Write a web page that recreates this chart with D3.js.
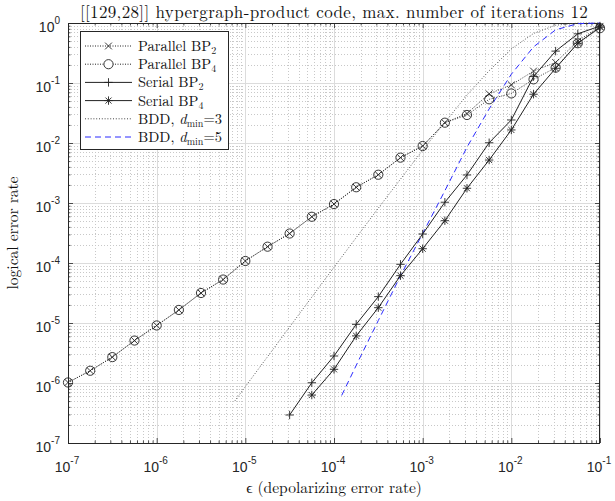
<!DOCTYPE html>
<html>
<head>
<meta charset="utf-8">
<script src="https://cdn.jsdelivr.net/npm/d3@7"></script>
<style>
  body { margin: 0; background: #fff; }
  svg { display: block; }
</style>
</head>
<body>
<svg id="chart" width="615" height="501"></svg>
<script>
// Depolarizing error rates (quarter-decade steps) for the parallel schedules
const epsParallel = [1e-7, 1.78e-7, 3.16e-7, 5.62e-7, 1e-6, 1.78e-6, 3.16e-6, 5.62e-6,
  1e-5, 1.78e-5, 3.16e-5, 5.62e-5, 1e-4, 1.78e-4, 3.16e-4, 5.62e-4,
  1e-3, 1.78e-3, 3.16e-3, 5.62e-3, 1e-2, 1.78e-2, 3.16e-2, 5.62e-2, 1e-1];
const parallelBP2 = [1.02e-6, 1.6e-6, 2.7e-6, 5.1e-6, 9.1e-6, 1.65e-5, 3.16e-5, 5.3e-5,
  1.08e-4, 1.87e-4, 3.1e-4, 5.9e-4, 9.6e-4, 1.83e-3, 2.96e-3, 5.7e-3,
  8.9e-3, 2.18e-2, 3.1e-2, 6.6e-2, 9.3e-2, 0.158, 0.22, 0.5, 0.88];
const parallelBP4 = [1.02e-6, 1.6e-6, 2.7e-6, 5.1e-6, 9.1e-6, 1.65e-5, 3.16e-5, 5.3e-5,
  1.08e-4, 1.87e-4, 3.1e-4, 5.9e-4, 9.6e-4, 1.83e-3, 2.96e-3, 5.7e-3,
  8.9e-3, 2.18e-2, 2.93e-2, 5.35e-2, 6.7e-2, 0.115, 0.18, 0.46, 0.82];

// Serial schedules
const epsSerialBP2 = [3.16e-5, 5.62e-5, 1e-4, 1.78e-4, 3.16e-4, 5.62e-4, 1e-3, 1.78e-3,
  3.16e-3, 5.62e-3, 1e-2, 1.78e-2, 3.16e-2, 5.62e-2, 1e-1];
const serialBP2 = [2.93e-7, 1.01e-6, 2.82e-6, 9.5e-6, 2.75e-5, 9.5e-5, 3.04e-4, 1.03e-3,
  2.93e-3, 1.01e-2, 2.42e-2, 0.128, 0.34, 0.66, 0.89];
const epsSerialBP4 = [5.62e-5, 1e-4, 1.78e-4, 3.16e-4, 5.62e-4, 1e-3, 1.78e-3,
  3.16e-3, 5.62e-3, 1e-2, 1.78e-2, 3.16e-2, 5.62e-2, 1e-1];
const serialBP4 = [6.3e-7, 1.69e-6, 6.1e-6, 1.8e-5, 6.15e-5, 1.73e-4, 5.07e-4,
  1.76e-3, 5.2e-3, 1.65e-2, 6.5e-2, 0.176, 0.46, 0.85];

// Bounded-distance decoding reference curves
const epsBDD3 = [7.6e-6, 1e-5, 3.16e-5, 1e-4, 3.16e-4, 1e-3, 1.78e-3, 3.16e-3,
  5.62e-3, 1e-2, 1.78e-2, 3.16e-2, 5.62e-2, 1e-1];
const bdd3 = [5.0e-7, 8.7e-7, 8.6e-6, 8.5e-5, 8.2e-4, 7.6e-3, 2.2e-2, 6.3e-2,
  0.16, 0.37, 0.67, 0.92, 0.995, 1.0];
const epsBDD5 = [1.22e-4, 2e-4, 3.16e-4, 5.62e-4, 1e-3, 1.78e-3, 3.16e-3, 5.62e-3,
  1e-2, 1.78e-2, 3.16e-2, 5.62e-2, 1e-1];
const bdd5 = [6.2e-7, 2.8e-6, 1.1e-5, 6.1e-5, 3.1e-4, 1.6e-3, 8.5e-3, 3.7e-2,
  0.14, 0.40, 0.77, 0.975, 1.0];

// Axis tick exponents
const xTickExponents = [-7, -6, -5, -4, -3, -2, -1];
const yTickExponents = [-7, -6, -5, -4, -3, -2, -1, 0];

const titleText = "[[129,28]] hypergraph-product code, max. number of iterations 12";

const W = 615, H = 501;
const margin = { left: 68, right: 15, top: 23, bottom: 58 };
const pw = W - margin.left - margin.right;
const ph = H - margin.top - margin.bottom;

const svg = d3.select("#chart");
const serif = "'Latin Modern Roman', 'Liberation Serif', 'DejaVu Serif', serif";
const sans = "'Liberation Sans', Arial, Helvetica, sans-serif";

const x = d3.scaleLog().domain([1e-7, 1e-1]).range([margin.left, margin.left + pw]);
const y = d3.scaleLog().domain([1e-7, 1]).range([margin.top + ph, margin.top]);

// Minor positions (2..9 within each decade)
function minorValues(lo, hi) {
  const out = [];
  for (let e = lo; e < hi; e++) for (let m = 2; m <= 9; m++) out.push(m * Math.pow(10, e));
  return out;
}
const xMinor = minorValues(-7, -1);
const yMinor = minorValues(-7, 0);
const xMajor = xTickExponents.map(e => Math.pow(10, e));
const yMajor = yTickExponents.map(e => Math.pow(10, e));

// Grid
const grid = svg.append("g");
grid.selectAll(".xminor").data(xMinor).join("line")
  .attr("x1", d => Math.round(x(d)) + 0.5).attr("x2", d => Math.round(x(d)) + 0.5)
  .attr("y1", margin.top).attr("y2", margin.top + ph)
  .attr("stroke", "#c8c8c8").attr("stroke-width", 1).attr("stroke-dasharray", "1 2");
grid.selectAll(".yminor").data(yMinor).join("line")
  .attr("y1", d => Math.round(y(d)) + 0.5).attr("y2", d => Math.round(y(d)) + 0.5)
  .attr("x1", margin.left).attr("x2", margin.left + pw)
  .attr("stroke", "#c8c8c8").attr("stroke-width", 1).attr("stroke-dasharray", "1 2");
grid.selectAll(".xmajor").data(xMajor).join("line")
  .attr("x1", d => Math.round(x(d)) + 0.5).attr("x2", d => Math.round(x(d)) + 0.5)
  .attr("y1", margin.top).attr("y2", margin.top + ph)
  .attr("stroke", "#dcdcdc").attr("stroke-width", 1);
grid.selectAll(".ymajor").data(yMajor).join("line")
  .attr("y1", d => Math.round(y(d)) + 0.5).attr("y2", d => Math.round(y(d)) + 0.5)
  .attr("x1", margin.left).attr("x2", margin.left + pw)
  .attr("stroke", "#dcdcdc").attr("stroke-width", 1);

// Axes with inward ticks on all four sides
const axisColor = "#262626";
function styleAxis(g) {
  g.selectAll(".domain").remove();
  g.selectAll(".tick text").remove();
  g.selectAll(".tick line").attr("stroke", axisColor).attr("stroke-width", 0.8);
}
svg.append("g").attr("transform", `translate(0,${margin.top + ph})`)
  .call(d3.axisTop(x).tickValues(xMajor).tickSize(5)).call(styleAxis);
svg.append("g").attr("transform", `translate(0,${margin.top + ph})`)
  .call(d3.axisTop(x).tickValues(xMinor).tickSize(2.5)).call(styleAxis);
svg.append("g").attr("transform", `translate(0,${margin.top})`)
  .call(d3.axisBottom(x).tickValues(xMajor).tickSize(5)).call(styleAxis);
svg.append("g").attr("transform", `translate(0,${margin.top})`)
  .call(d3.axisBottom(x).tickValues(xMinor).tickSize(2.5)).call(styleAxis);
svg.append("g").attr("transform", `translate(${margin.left},0)`)
  .call(d3.axisRight(y).tickValues(yMajor).tickSize(5)).call(styleAxis);
svg.append("g").attr("transform", `translate(${margin.left},0)`)
  .call(d3.axisRight(y).tickValues(yMinor).tickSize(2.5)).call(styleAxis);
svg.append("g").attr("transform", `translate(${margin.left + pw},0)`)
  .call(d3.axisLeft(y).tickValues(yMajor).tickSize(5)).call(styleAxis);
svg.append("g").attr("transform", `translate(${margin.left + pw},0)`)
  .call(d3.axisLeft(y).tickValues(yMinor).tickSize(2.5)).call(styleAxis);

svg.append("rect")
  .attr("x", margin.left + 0.5).attr("y", margin.top + 0.5)
  .attr("width", pw - 1).attr("height", ph)
  .attr("fill", "none").attr("stroke", axisColor).attr("stroke-width", 1);

// Tick labels: 10 with superscript exponent
const xl = svg.append("g").attr("font-family", sans).attr("fill", "#262626");
xTickExponents.forEach(e => {
  const t = xl.append("text").attr("x", x(Math.pow(10, e)) - 1).attr("y", margin.top + ph + 29)
    .attr("text-anchor", "middle").attr("font-size", 14);
  t.append("tspan").text("10");
  t.append("tspan").attr("dy", -8).attr("font-size", 10).text(String(e));
});
const yl = svg.append("g").attr("font-family", sans).attr("fill", "#262626");
yTickExponents.forEach(e => {
  const t = yl.append("text").attr("x", margin.left - 8).attr("y", y(Math.pow(10, e)) + 9)
    .attr("text-anchor", "end").attr("font-size", 14);
  t.append("tspan").text("10");
  t.append("tspan").attr("dy", -8).attr("font-size", 10).text(String(e));
});

// Title and axis titles
svg.append("text").attr("x", margin.left + pw / 2).attr("y", 18)
  .attr("text-anchor", "middle").attr("font-family", serif).attr("font-size", 17)
  .attr("letter-spacing", 0.35).attr("fill", "#111").text(titleText);
svg.append("text").attr("x", margin.left + pw / 2).attr("y", 493)
  .attr("text-anchor", "middle").attr("font-family", serif).attr("font-size", 15.5)
  .attr("fill", "#111").text("ϵ (depolarizing error rate)");
svg.append("text").attr("transform", `translate(18,${margin.top + ph / 2}) rotate(-90)`)
  .attr("text-anchor", "middle").attr("font-family", serif).attr("font-size", 15.5)
  .attr("fill", "#111").text("logical error rate");

// Marker shapes drawn as stroked paths
const markerPath = {
  x: s => `M${-s},${-s}L${s},${s}M${-s},${s}L${s},${-s}`,
  plus: s => `M${-s},0H${s}M0,${-s}V${s}`,
  star: s => { const d = s * 0.72; return `M${-s},0H${s}M0,${-s}V${s}M${-d},${-d}L${d},${d}M${-d},${d}L${d},${-d}`; }
};

const lineGen = d3.line().x(d => x(d[0])).y(d => y(d[1]));
const plot = svg.append("g");
const lineColor = "#222";
const bdd3Color = "#444";
const bdd5Color = "#2b2bff";

function drawSeries(eps, vals, opts) {
  const pts = eps.map((e, i) => [e, vals[i]]);
  plot.append("path").datum(pts).attr("d", lineGen)
    .attr("fill", "none").attr("stroke", opts.color).attr("stroke-width", opts.width)
    .attr("stroke-dasharray", opts.dash || null);
  if (opts.marker === "circle") {
    plot.selectAll(null).data(pts).join("circle")
      .attr("cx", d => x(d[0])).attr("cy", d => y(d[1])).attr("r", 4.6)
      .attr("fill", "none").attr("stroke", opts.color).attr("stroke-width", 0.9);
  } else if (opts.marker) {
    plot.selectAll(null).data(pts).join("path")
      .attr("transform", d => `translate(${x(d[0])},${y(d[1])})`)
      .attr("d", markerPath[opts.marker](opts.msize))
      .attr("fill", "none").attr("stroke", opts.color).attr("stroke-width", 0.9);
  }
}

drawSeries(epsBDD3, bdd3, { color: bdd3Color, width: 0.9, dash: "1 1.8" });
drawSeries(epsBDD5, bdd5, { color: bdd5Color, width: 1, dash: "6 4" });
drawSeries(epsParallel, parallelBP2, { color: lineColor, width: 0.9, dash: "1 1.5", marker: "x", msize: 3.4 });
drawSeries(epsParallel, parallelBP4, { color: lineColor, width: 0.9, dash: "1 1.5", marker: "circle" });
drawSeries(epsSerialBP2, serialBP2, { color: lineColor, width: 1, marker: "plus", msize: 4.2 });
drawSeries(epsSerialBP4, serialBP4, { color: lineColor, width: 1, marker: "star", msize: 4.2 });

// Legend
const legendItems = [
  { label: "Parallel BP", sub: "2", dash: "1 1.5", color: lineColor, marker: "x", msize: 3.4 },
  { label: "Parallel BP", sub: "4", dash: "1 1.5", color: lineColor, marker: "circle" },
  { label: "Serial BP", sub: "2", dash: null, color: lineColor, marker: "plus", msize: 4.2 },
  { label: "Serial BP", sub: "4", dash: null, color: lineColor, marker: "star", msize: 4.2 },
  { bdd: "3", dash: "1 1.8", color: bdd3Color },
  { bdd: "5", dash: "6 4", color: bdd5Color }
];
const lg = svg.append("g");
lg.append("rect").attr("x", 80.5).attr("y", 31.5).attr("width", 148).attr("height", 118)
  .attr("fill", "#fff").attr("stroke", axisColor).attr("stroke-width", 1);
legendItems.forEach((it, i) => {
  const cy = 46 + i * 18.2;
  lg.append("line").attr("x1", 85).attr("x2", 132).attr("y1", cy).attr("y2", cy)
    .attr("stroke", it.color).attr("stroke-width", 1).attr("stroke-dasharray", it.dash);
  if (it.marker === "circle") {
    lg.append("circle").attr("cx", 108.5).attr("cy", cy).attr("r", 4.6)
      .attr("fill", "#fff").attr("stroke", it.color).attr("stroke-width", 0.9);
  } else if (it.marker) {
    lg.append("path").attr("transform", `translate(108.5,${cy})`)
      .attr("d", markerPath[it.marker](it.msize))
      .attr("fill", "none").attr("stroke", it.color).attr("stroke-width", 0.9);
  }
  const t = lg.append("text").attr("x", 138).attr("y", cy + 5)
    .attr("font-family", serif).attr("font-size", 14.5).attr("fill", "#111");
  if (it.bdd) {
    t.append("tspan").text("BDD, ");
    t.append("tspan").attr("font-style", "italic").text("d");
    t.append("tspan").attr("dy", 3).attr("font-size", 10).text("min");
    t.append("tspan").attr("dy", -3).text("=" + it.bdd);
  } else {
    t.append("tspan").text(it.label);
    t.append("tspan").attr("dy", 3).attr("font-size", 10).text(it.sub);
  }
});
</script>
</body>
</html>
